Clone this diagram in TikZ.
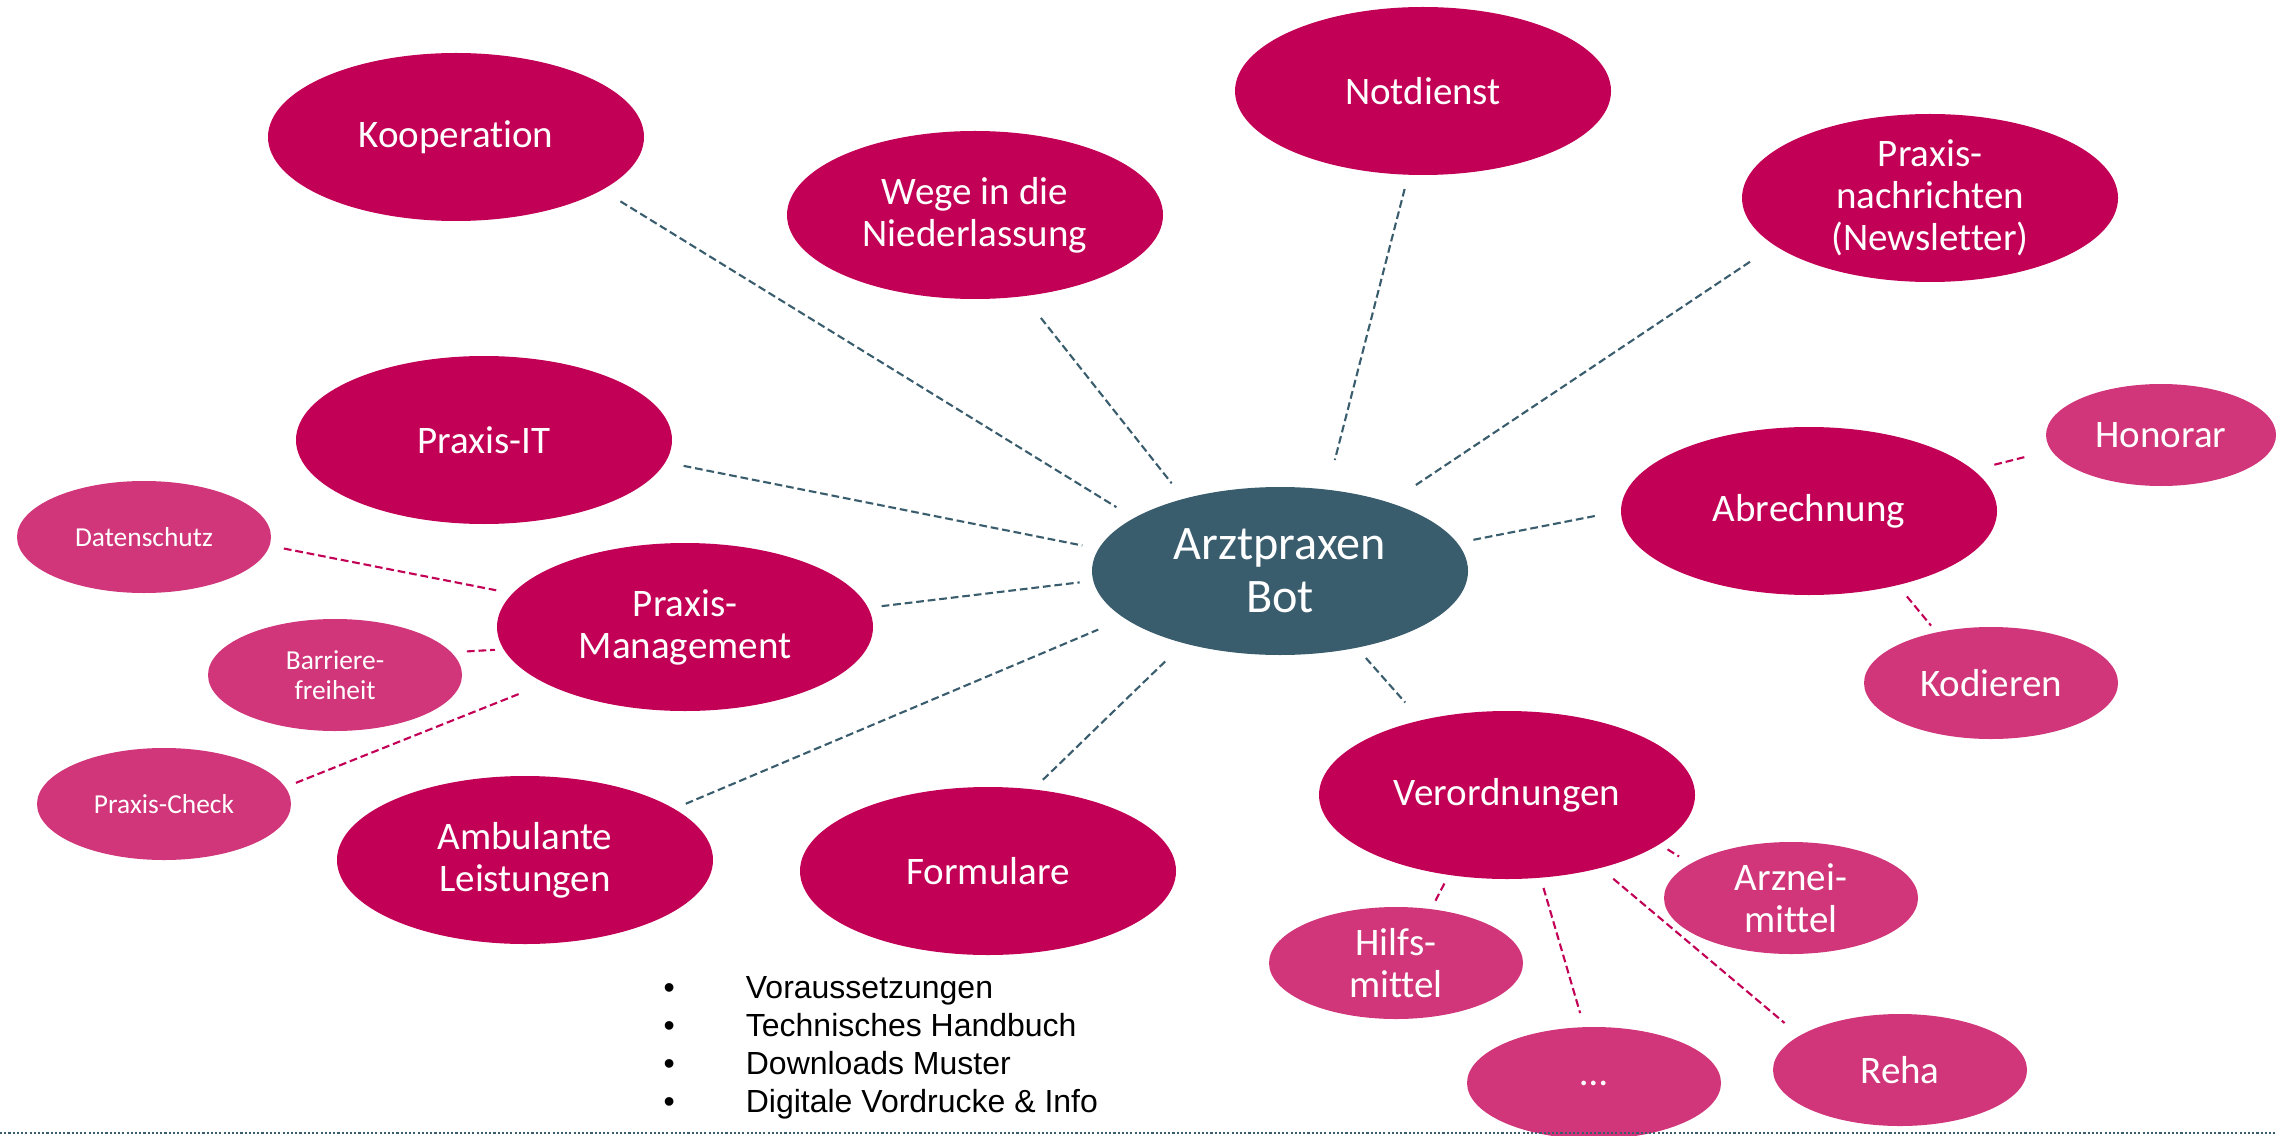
\documentclass[tikz,border=0pt]{standalone}
\usepackage{fontspec}
\setmainfont{Carlito}[Ligatures=CommonOff]
\newfontfamily\listfont{Liberation Sans}
\usepackage{tikz}
\usetikzlibrary{shapes.geometric}
\definecolor{berry}{HTML}{C20055}
\definecolor{rose}{HTML}{D03679}
\definecolor{slate}{HTML}{3A5D6E}

\begin{document}
\begin{tikzpicture}[
    topic/.style={ellipse, fill=berry, text=white, inner sep=0pt, inner ysep=-1mm,
        minimum width=3.76cm, minimum height=1.68cm, align=center,
        font=\fontsize{11.1}{11.95}\selectfont},
    subtopic/.style={ellipse, fill=rose, text=white, inner sep=0pt, inner ysep=-1mm,
        minimum width=2.54cm, minimum height=1.12cm, align=center,
        font=\fontsize{11.1}{11.95}\selectfont},
    smalltopic/.style={subtopic, font=\fontsize{7.8}{8.5}\selectfont},
    link/.style={slate, line width=0.6pt, dash pattern=on 2.2pt off 1.1pt},
    sublink/.style={berry, line width=0.6pt, dash pattern=on 2.2pt off 1.1pt},
]
    \useasboundingbox (0,0) rectangle (22.76,-11.35);

    % Bot
    \node [topic, fill=slate, font=\fontsize{13.7}{15.1}\selectfont] (bot) at (12.80,-5.71) {Arztpraxen\\Bot};

    % Topics
    \node [topic] (koop) at (4.56,-1.37) {Kooperation};
    \node [topic] (wege) at (9.75,-2.15) {Wege in die\\Niederlassung};
    \node [topic] (notdienst) at (14.23,-0.91) {Notdienst};
    \node [topic] (news) at (19.30,-1.98) {Praxis-\\nachrichten\\(Newsletter)};
    \node [topic] (praxisit) at (4.84,-4.40) {Praxis-IT};
    \node [topic] (mgmt) at (6.85,-6.27) {Praxis-\\Management};
    \node [topic] (ambulant) at (5.25,-8.60) {Ambulante\\Leistungen};
    \node [topic] (formulare) at (9.88,-8.71) {Formulare};
    \node [topic] (abrechnung) at (18.09,-5.11) {Abrechnung};
    \node [topic] (vo) at (15.07,-7.95) {Verordnungen};

    % Subtopics
    \node [smalltopic] (datenschutz) at (1.44,-5.37) {Datenschutz};
    \node [smalltopic] (barriere) at (3.35,-6.75) {Barriere-\\freiheit};
    \node [smalltopic] (check) at (1.64,-8.04) {Praxis-Check};
    \node [subtopic, minimum width=2.30cm, minimum height=1.02cm] (honorar) at (21.61,-4.35) {Honorar};
    \node [subtopic] (kodieren) at (19.91,-6.83) {Kodieren};
    \node [subtopic] (arznei) at (17.91,-8.98) {Arznei-\\mittel};
    \node [subtopic] (hilfs) at (13.96,-9.63) {Hilfs-\\mittel};
    \node [subtopic] (etc) at (15.94,-10.83) {\raisebox{-0.6mm}{…}};
    \node [subtopic] (reha) at (19.00,-10.70) {Reha};

    % Links to the bot
    \draw [link, shorten <=2.1mm, shorten >=2.0mm] (koop.-20) -- (bot.160);
    \draw [link, shorten <=2.7mm, shorten >=1.9mm] (wege.-59) -- (bot.143);
    \draw [link, shorten <=1.4mm, shorten >=3.0mm] (notdienst.-100) -- (bot.60);
    \draw [link, shorten <=2.9mm, shorten >=3.1mm] (news.197) -- (bot.32);
    \draw [link, shorten <=1.8mm, shorten >=1.6mm] (praxisit.-7) -- (bot.173);
    \draw [link, shorten <=1.3mm, shorten >=1.3mm] (mgmt.6) -- (bot.183);
    \draw [link, shorten <=1.2mm, shorten >=2.8mm] (ambulant.19) -- (bot.197);
    \draw [link, shorten <=1.3mm, shorten >=2.4mm] (formulare.61) -- (bot.217);
    \draw [link, shorten <=1.3mm, shorten >=2.3mm] (bot.-45) -- (vo.139);
    \draw [link, shorten <=2.6mm, shorten >=1.2mm] (abrechnung.180) -- (bot.9);

    % Links to the subtopics
    \draw [sublink, shorten <=1.4mm, shorten >=1.6mm] (datenschutz.-4) -- (mgmt.169);
    \draw [sublink, shorten <=1.5mm, shorten >=0.8mm] (barriere.11) -- (mgmt.187);
    \draw [sublink, shorten <=1.1mm, shorten >=2.5mm] (check.8) -- (mgmt.202);
    \draw [sublink, shorten <=2.1mm, shorten >=2.5mm] (abrechnung.14) -- (honorar.188);
    \draw [sublink, shorten <=1.4mm, shorten >=0.8mm] (abrechnung.-40) -- (kodieren.137);
    \draw [sublink, shorten <=0.9mm, shorten >=1.3mm] (vo.-18) -- (arznei.161);
    \draw [sublink, shorten <=0.9mm, shorten >=0.8mm] (vo.234) -- (hilfs.57);
    \draw [sublink, shorten <=1.0mm, shorten >=1.4mm] (vo.-68) -- (etc.100);
    \draw [sublink, shorten <=1.6mm, shorten >=1.9mm] (vo.-38) -- (reha.161);

    % List below Formulare
    \node [anchor=west, inner sep=0pt, font=\listfont\fontsize{9.1}{10.8}\selectfont] (liste) at (6.63,-10.48)
        {\begin{tabular}{@{}l@{\hspace{0.71cm}}l@{}}
            \textbullet & Voraussetzungen\\
            \textbullet & Technisches Handbuch\\
            \textbullet & Downloads Muster\\
            \textbullet & Digitale Vordrucke \& Info
        \end{tabular}};

    % Footer line
    \draw [slate, line width=0.6pt, dash pattern=on 0.6pt off 0.6pt] (0,-11.33) -- (22.76,-11.33);

\end{tikzpicture}
\end{document}
